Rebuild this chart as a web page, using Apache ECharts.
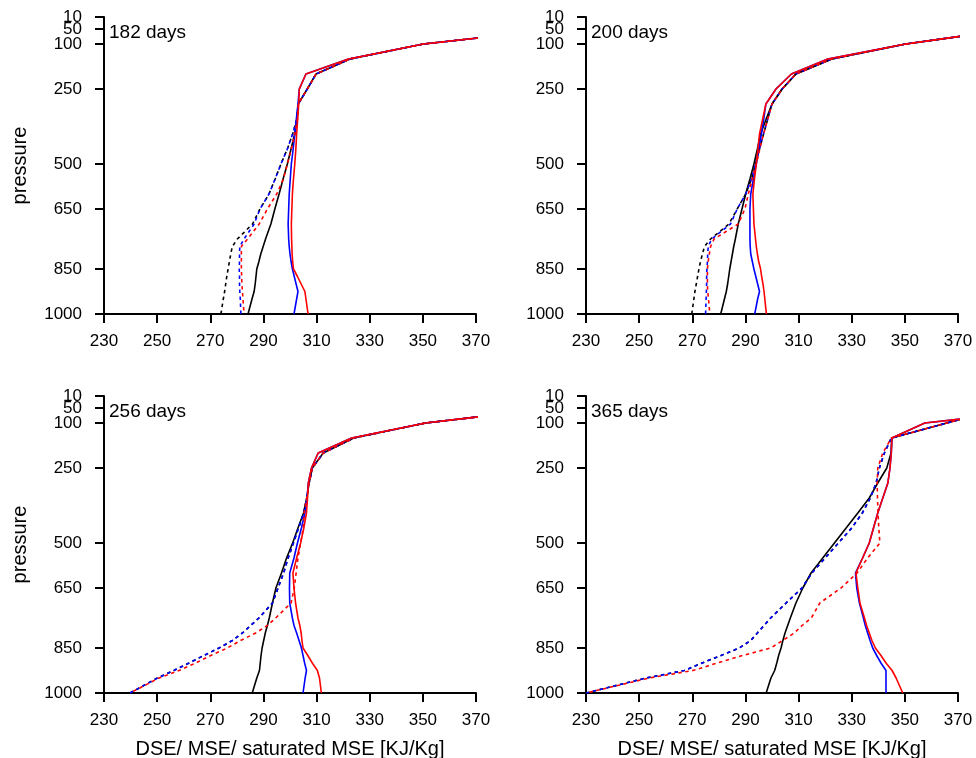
<!DOCTYPE html>
<html>
<head>
<meta charset="utf-8">
<script src="https://cdn.jsdelivr.net/npm/echarts@6/dist/echarts.min.js"></script>
<style>
html,body{margin:0;padding:0;background:#fff;}
#chart{width:976px;height:758px;}
</style>
</head>
<body>
<div id="chart"></div>
<script>
// pressure levels (hPa)
const levels = [1000, 950, 925, 900, 875, 850, 825, 800, 775, 750, 700, 650, 600, 550, 500, 450, 400, 350, 300, 250, 200, 150, 100, 70];
const xTicks = [230, 250, 270, 290, 310, 330, 350, 370];
const yTicks = [10, 50, 100, 250, 500, 650, 850, 1000];
const panelTitles = ['182 days', '200 days', '256 days', '365 days'];

// 182 days
const d182BlackSolid  = [284.2, 285.7, 286.5, 286.9, 287.2, 287.5, 288.3, 289.0, 289.9, 290.8, 292.8, 294.3, 295.9, 297.4, 299.0, 300.4, 301.8, 302.6, 303.1, 306.5, 309.8, 322.6, 350.2, 381];
const d182BlackDashed = [274.0, 274.9, 275.4, 275.8, 276.2, 276.7, 277.2, 277.7, 278.3, 280.2, 285.9, 288.7, 292.1, 294.4, 296.6, 299.0, 301.0, 302.6, 303.1, 306.5, 309.8, 322.6, 350.2, 381];
const d182BlueSolid   = [301.5, 302.5, 303.0, 302.3, 301.6, 300.9, 300.4, 300.0, 299.7, 299.5, 299.3, 299.5, 299.7, 300.1, 300.5, 301.2, 301.8, 302.4, 303.0, 303.5, 306.0, 322.0, 350.2, 381];
const d182BlueDashed  = [281.5, 281.3, 281.1, 281.0, 281.0, 280.9, 281.0, 281.0, 281.1, 282.7, 286.5, 288.7, 292.1, 294.4, 296.6, 299.0, 301.0, 302.6, 303.1, 306.5, 309.8, 322.6, 350.2, 381];
const d182RedSolid    = [306.8, 306.0, 305.6, 304.2, 302.8, 301.3, 301.0, 300.8, 300.7, 300.6, 300.5, 300.7, 300.9, 301.3, 301.8, 302.2, 302.5, 302.9, 303.3, 303.5, 306.0, 322.0, 350.2, 381];
const d182RedDashed   = [282.7, 282.3, 282.1, 281.9, 281.8, 281.7, 281.7, 281.7, 281.7, 284.0, 288.4, 291.5, 295.0, 297.5, 299.0, 300.5, 301.8, 302.8, 303.1, 306.5, 309.8, 322.6, 350.2, 381];

// 200 days
const d200BlackSolid  = [280.7, 282.1, 282.8, 283.3, 283.7, 284.1, 284.6, 285.1, 285.6, 286.2, 287.3, 288.7, 290.1, 291.7, 293.2, 294.5, 295.7, 297.8, 300.0, 303.8, 309.0, 322.5, 350.3, 374.6];
const d200BlackDashed = [269.8, 270.6, 271.0, 271.5, 272.0, 272.5, 273.1, 273.8, 274.6, 276.9, 283.8, 286.9, 290.1, 292.3, 293.8, 295.3, 296.8, 298.4, 300.0, 303.8, 309.0, 322.5, 350.3, 374.6];
const d200BlueSolid   = [293.5, 294.6, 295.3, 294.6, 293.9, 293.2, 292.6, 292.0, 291.8, 291.7, 291.7, 291.7, 292.0, 293.0, 294.1, 295.0, 296.0, 296.9, 297.7, 301.5, 307.3, 321.0, 350.3, 374.6];
const d200BlueDashed  = [275.0, 275.2, 275.3, 275.4, 275.4, 275.5, 275.7, 275.8, 276.0, 277.3, 284.4, 286.9, 290.1, 292.3, 293.8, 295.3, 296.8, 298.4, 300.0, 303.8, 309.0, 322.5, 350.3, 374.6];
const d200RedSolid    = [297.9, 297.3, 297.0, 296.6, 296.1, 295.7, 295.0, 294.5, 294.1, 293.8, 293.2, 293.0, 292.8, 293.4, 294.1, 294.7, 295.3, 296.5, 297.7, 301.5, 307.3, 321.0, 350.3, 374.6];
const d200RedDashed   = [276.6, 276.1, 275.8, 275.7, 275.7, 275.7, 276.0, 276.4, 276.9, 278.2, 287.3, 289.8, 291.1, 292.6, 294.1, 295.4, 296.8, 298.4, 300.0, 303.8, 309.0, 322.5, 350.3, 374.6];

// 256 days
const d256BlackSolid  = [285.8, 287.5, 288.5, 288.8, 289.1, 289.5, 290.1, 290.7, 291.5, 292.2, 293.4, 294.7, 296.8, 298.7, 301.0, 303.0, 305.1, 306.3, 307.2, 308.4, 312.5, 324.0, 351.0, 380];
const d256BlackDashed = [239.8, 250.1, 256.3, 262.0, 267.6, 273.3, 278.3, 282.1, 285.2, 288.3, 293.4, 295.5, 297.6, 299.3, 301.3, 303.2, 305.2, 306.3, 307.2, 308.4, 312.5, 324.0, 351.0, 380];
const d256BlueSolid   = [304.9, 305.7, 306.2, 305.5, 304.9, 304.3, 303.4, 302.5, 301.5, 300.9, 299.9, 299.8, 299.9, 301.5, 302.8, 304.3, 305.6, 306.4, 306.9, 308.1, 310.6, 323.2, 351.0, 380];
const d256BlueDashed  = [239.8, 250.1, 256.3, 262.0, 267.6, 273.3, 278.3, 282.1, 285.2, 288.3, 293.4, 295.5, 297.6, 299.3, 301.3, 303.2, 305.2, 306.3, 307.2, 308.4, 312.5, 324.0, 351.0, 380];
const d256RedSolid    = [311.8, 311.1, 310.3, 308.4, 306.7, 304.9, 304.5, 304.2, 303.7, 303.0, 302.1, 301.5, 301.1, 302.5, 304.0, 305.2, 306.2, 306.6, 306.9, 308.1, 310.6, 323.2, 351.0, 380];
const d256RedDashed   = [239.8, 250.7, 258.2, 264.5, 270.2, 276.4, 281.4, 287.1, 291.5, 294.6, 300.4, 301.6, 302.3, 303.0, 304.0, 305.0, 305.3, 306.3, 307.2, 308.4, 312.5, 324.0, 351.0, 380];

// 365 days
const d365BlackSolid  = [297.8, 299.6, 301.0, 301.8, 302.5, 303.4, 304.1, 304.9, 305.9, 306.9, 309.0, 311.6, 314.7, 319.1, 323.5, 327.9, 332.3, 336.6, 339.8, 343.2, 344.8, 345.1, 365.8, 378.3];
const d365BlackDashed = [230.0, 252.6, 267.0, 273.7, 280.8, 287.7, 292.0, 294.5, 297.0, 299.5, 305.3, 311.3, 315.0, 320.0, 325.0, 330.0, 334.0, 337.0, 339.2, 340.4, 342.3, 344.9, 365.8, 378.3];
const d365BlueSolid   = [342.9, 342.9, 342.9, 341.0, 339.4, 337.9, 336.9, 336.0, 335.1, 334.4, 332.9, 331.9, 331.4, 334.1, 336.6, 338.2, 339.8, 341.7, 343.6, 344.4, 344.9, 345.1, 357.5, 388];
const d365BlueDashed  = [230.0, 252.6, 267.0, 273.7, 280.8, 287.7, 292.0, 294.5, 297.0, 299.5, 305.3, 311.3, 315.0, 320.0, 325.0, 330.0, 334.0, 337.0, 339.2, 340.4, 342.3, 344.9, 365.8, 378.3];
const d365RedSolid    = [349.2, 346.7, 345.2, 342.9, 341.0, 338.9, 337.6, 336.6, 335.6, 334.8, 333.1, 332.3, 331.6, 334.1, 336.6, 338.2, 339.8, 341.7, 343.6, 344.4, 344.9, 345.1, 357.5, 388];
const d365RedDashed   = [230.0, 253.8, 270.2, 279.5, 289.0, 299.5, 304.0, 308.4, 311.3, 314.8, 318.0, 326.0, 332.0, 336.0, 340.6, 340.2, 339.9, 339.7, 339.6, 339.8, 341.7, 344.9, 365.8, 378.3];

const panels = [
  [d182BlackSolid, d182BlackDashed, d182BlueSolid, d182BlueDashed, d182RedSolid, d182RedDashed],
  [d200BlackSolid, d200BlackDashed, d200BlueSolid, d200BlueDashed, d200RedSolid, d200RedDashed],
  [d256BlackSolid, d256BlackDashed, d256BlueSolid, d256BlueDashed, d256RedSolid, d256RedDashed],
  [d365BlackSolid, d365BlackDashed, d365BlueSolid, d365BlueDashed, d365RedSolid, d365RedDashed]
];

const FONT = "'Liberation Sans', Arial, Helvetica, sans-serif";
const styles = [
  {color: '#000000', type: 'solid'},
  {color: '#000000', type: [3.5, 3.5], offset: 0},
  {color: '#0000ff', type: 'solid'},
  {color: '#0000ff', type: [3.5, 3.5], offset: 0},
  {color: '#ff0000', type: 'solid'},
  {color: '#ff0000', type: [3.5, 3.5], offset: 3.5}
];

const gridPos = [
  {left: 104, top: 17},
  {left: 586, top: 17},
  {left: 104, top: 396},
  {left: 586, top: 396}
];

const labelStyle = {fontSize: 17, color: '#000', fontFamily: FONT, hideOverlap: false, showMinLabel: true, showMaxLabel: true,
  formatter: v => String(v)};

const grids = [], xAxes = [], yAxes = [], series = [], titles = [];
gridPos.forEach((g, i) => {
  grids.push({left: g.left, top: g.top, width: 372, height: 297, containLabel: false, outerBoundsMode: 'none'});
  xAxes.push({
    type: 'value', gridIndex: i, min: 230, max: 370, interval: 20,
    name: i >= 2 ? 'DSE/ MSE/ saturated MSE [KJ/Kg]' : '',
    nameLocation: 'middle', nameGap: 46,
    nameTextStyle: {fontSize: 20, color: '#000', fontFamily: FONT},
    axisLine: {show: true, onZero: false, lineStyle: {color: '#000', width: 2}},
    axisTick: {show: true, length: 9, lineStyle: {color: '#000', width: 2}},
    axisLabel: Object.assign({}, labelStyle, {margin: 19}),
    splitLine: {show: false}
  });
  // main pressure axis (all ticks, labels except 50)
  yAxes.push({
    type: 'value', gridIndex: i, min: 10, max: 1000, inverse: true,
    name: (i % 2 === 0) ? 'pressure' : '',
    nameLocation: 'middle', nameGap: 74,
    nameTextStyle: {fontSize: 20, color: '#000', fontFamily: FONT},
    axisLine: {show: true, onZero: false, lineStyle: {color: '#000', width: 2}},
    axisTick: {show: true, length: 9, customValues: yTicks, lineStyle: {color: '#000', width: 2}},
    axisLabel: Object.assign({}, labelStyle, {margin: 22, customValues: yTicks.filter(t => t !== 50)}),
    splitLine: {show: false}
  });
  titles.push({
    text: panelTitles[i], left: g.left + 5, top: g.top + 6, padding: 0,
    textStyle: {fontSize: 19, fontWeight: 'normal', color: '#000', fontFamily: FONT}
  });
});
// companion axes carrying the overlapping "50" label
gridPos.forEach((g, i) => {
  yAxes.push({
    type: 'value', gridIndex: i, min: 10, max: 1000, inverse: true, position: 'left',
    axisLine: {show: false}, axisTick: {show: false}, splitLine: {show: false},
    axisLabel: Object.assign({}, labelStyle, {margin: 22, customValues: yTicks.filter(t => t === 50)})
  });
});

gridPos.forEach((g, i) => {
  panels[i].forEach((vals, k) => {
    const st = styles[k];
    series.push({
      type: 'line', xAxisIndex: i, yAxisIndex: i,
      data: vals.map((v, j) => [v, levels[j]]),
      showSymbol: false, symbol: 'none', clip: true, silent: true,
      lineStyle: {color: st.color, width: 1.6, type: st.type, dashOffset: st.offset || 0},
      z: 2 + k
    });
  });
});

const chart = echarts.init(document.getElementById('chart'), null, {renderer: 'canvas'});
chart.setOption({
  animation: false,
  backgroundColor: '#fff',
  title: titles,
  grid: grids,
  xAxis: xAxes,
  yAxis: yAxes,
  series: series
});
</script>
</body>
</html>
